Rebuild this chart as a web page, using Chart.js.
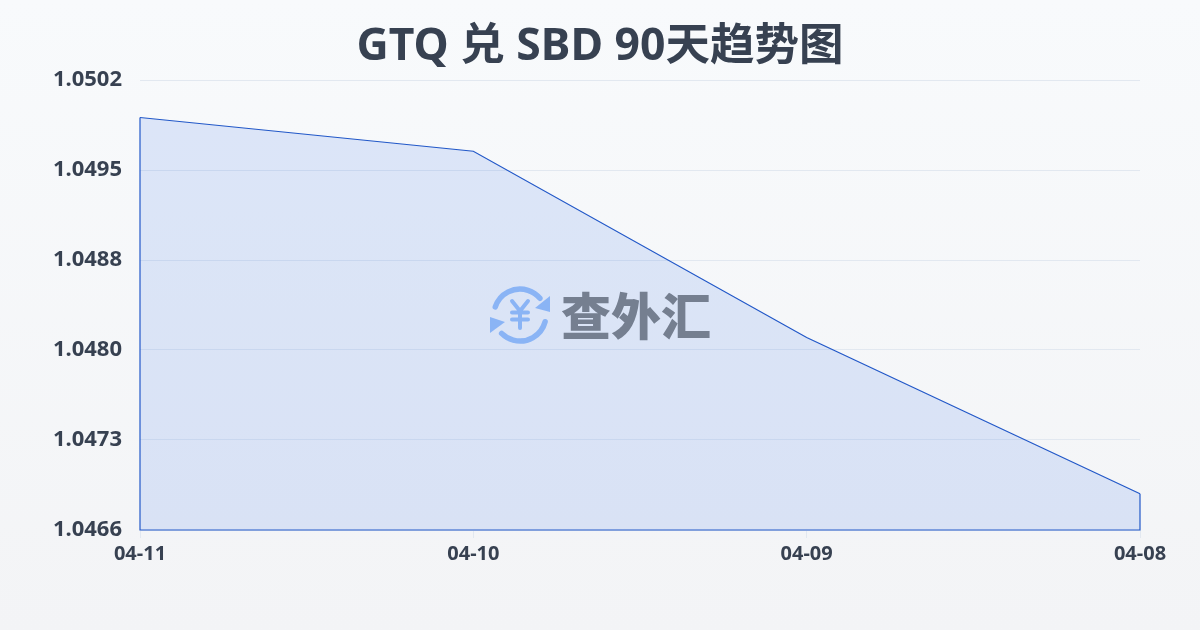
<!DOCTYPE html>
<html>
<head>
<meta charset="utf-8">
<style>
html, body { margin: 0; padding: 0; }
body { width: 1200px; height: 630px; overflow: hidden; background: linear-gradient(180deg, #f8fafc 0%, #f3f4f6 100%); }
#wrap { position: absolute; left: 0; top: 0; width: 1200px; height: 630px; }
</style>
<script src="https://cdn.jsdelivr.net/npm/chart.js@4/dist/chart.umd.min.js"></script>
</head>
<body>
<div id="wrap"><canvas id="chart" width="1200" height="630"></canvas></div>
<script>
const titleText = 'GTQ 兑 SBD 90天趋势图';
const dates = ['04-11', '04-10', '04-09', '04-08'];
const rates = [1.0499, 1.04963, 1.04814, 1.04689];
const yTicks = [1.0466, 1.04732, 1.04804, 1.04876, 1.04948, 1.0502];

const latin = '"Noto Sans", "Noto Sans CJK SC", sans-serif';

// closes the line down the two sides and along the bottom
const outline = {
    id: 'outline',
    afterDatasetsDraw(chart) {
        const pts = chart.getDatasetMeta(0).data;
        const a = chart.chartArea;
        const c = chart.ctx;
        c.save();
        c.strokeStyle = '#2258c8';
        c.lineWidth = 1.2;
        c.beginPath();
        c.moveTo(pts[0].x, pts[0].y);
        c.lineTo(pts[0].x, a.bottom);
        c.lineTo(pts[pts.length - 1].x, a.bottom);
        c.lineTo(pts[pts.length - 1].x, pts[pts.length - 1].y);
        c.stroke();
        c.restore();
    }
};

// logo in the middle of the plot
const watermark = {
    id: 'watermark',
    afterDatasetsDraw(chart) {
        const c = chart.ctx;
        const x = 520, y = 315, r = 26;
        const deg = Math.PI / 180;
        c.save();
        c.strokeStyle = '#8ab4f5';
        c.fillStyle = '#8ab4f5';
        c.lineWidth = 5.5;
        c.lineCap = 'round';
        c.beginPath();
        c.arc(x, y, r, 198 * deg, 320 * deg);
        c.stroke();
        c.beginPath();
        c.arc(x, y, r, 15 * deg, 135 * deg);
        c.stroke();
        // arrow heads
        c.beginPath();
        c.moveTo(550, 296); c.lineTo(550, 312); c.lineTo(535, 308);
        c.closePath();
        c.fill();
        c.beginPath();
        c.moveTo(490, 317); c.lineTo(490, 333); c.lineTo(505, 322);
        c.closePath();
        c.fill();
        // yen sign
        c.lineWidth = 4;
        c.beginPath();
        c.moveTo(512, 301); c.lineTo(520, 311); c.lineTo(528, 301);
        c.moveTo(512, 312.5); c.lineTo(528, 312.5);
        c.moveTo(512, 319.5); c.lineTo(528, 319.5);
        c.moveTo(520, 311); c.lineTo(520, 328);
        c.stroke();
        c.fillStyle = '#757f90';
        c.font = '900 50px "Noto Sans CJK SC"';
        c.textAlign = 'left';
        c.textBaseline = 'middle';
        c.fillText('查外汇', 561, 316);
        c.restore();
    }
};

new Chart(document.getElementById('chart').getContext('2d'), {
    type: 'line',
    data: {
        labels: dates,
        datasets: [{
            data: rates,
            borderColor: '#2258c8',
            borderWidth: 1.2,
            backgroundColor: 'rgba(37, 99, 235, 0.13)',
            fill: 'start',
            tension: 0,
            pointRadius: 0
        }]
    },
    options: {
        responsive: false,
        animation: false,
        plugins: {
            legend: { display: false },
            tooltip: { enabled: false },
            title: {
                display: true,
                text: titleText,
                color: '#374151',
                font: { size: 44.5, weight: 'bold', family: latin },
                padding: { top: 21, bottom: 5.6 }
            }
        },
        scales: {
            x: {
                offset: false,
                border: { display: false },
                grid: { drawOnChartArea: false, drawTicks: true, tickLength: 8, color: '#e2e8f0' },
                afterFit(axis) {
                    axis.height = 100;
                },
                ticks: {
                    color: '#374151',
                    font: { size: 20, weight: 'bold', family: latin },
                    maxRotation: 0,
                    padding: 4,
                    autoSkip: false
                }
            },
            y: {
                min: 1.0466,
                max: 1.0502,
                border: { display: false },
                grid: { color: '#e2e8f0', lineWidth: 1, drawTicks: false },
                afterBuildTicks(axis) {
                    axis.ticks = yTicks.map(v => ({ value: v }));
                },
                afterFit(axis) {
                    axis.width = 140;
                },
                ticks: {
                    color: '#374151',
                    font: { size: 22, weight: 'bold', family: latin },
                    padding: 18,
                    callback: v => v.toFixed(4)
                }
            },
            // empty axis, only keeps the right margin so the title stays centred on the page
            spacer: {
                position: 'right',
                grid: { display: false },
                border: { display: false },
                ticks: { display: false },
                afterFit(axis) {
                    axis.width = 60;
                }
            }
        }
    },
    plugins: [outline, watermark]
});
</script>
</body>
</html>
